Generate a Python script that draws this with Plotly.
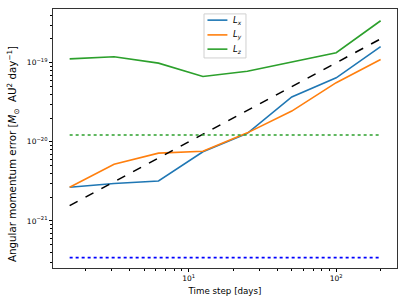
import numpy as np
import plotly.graph_objects as go

time_step = [1.5625, 3.125, 6.25, 12.5, 25, 50, 100, 200]
Lx = [2.67e-21, 2.97e-21, 3.2e-21, 7.5e-21, 1.28e-20, 3.7e-20, 6.45e-20, 1.6e-19]
Ly = [2.67e-21, 5.2e-21, 7.2e-21, 7.6e-21, 1.3e-20, 2.45e-20, 5.6e-20, 1.1e-19]
Lz = [1.12e-19, 1.19e-19, 9.9e-20, 6.7e-20, 7.8e-20, 1.02e-19, 1.34e-19, 3.4e-19]
ref_slope = 1e-21  # dashed reference: error proportional to time step
green_level = 1.22e-20
blue_level = 3.44e-22

series_names = ["<i>L<sub>x</sub></i>", "<i>L<sub>y</sub></i>", "<i>L<sub>z</sub></i>"]
series_colors = ["#1f77b4", "#ff7f0e", "#2ca02c"]

xtick_vals = [10, 100]
xtick_text = ["10<sup>1</sup>", "10<sup>2</sup>"]
ytick_vals = [1e-21, 1e-20, 1e-19]
ytick_text = ["10<sup>\u221221</sup>", "10<sup>\u221220</sup>", "10<sup>\u221219</sup>"]
y_title = "Angular momentum error [<i>M</i><sub>\u2299</sub>\u00a0 AU<sup>2</sup> day<sup>\u22121</sup>]"
x_title = "Time step [days]"

LW = 1.6

fig = go.Figure()
for vals, name, col in zip([Lx, Ly, Lz], series_names, series_colors):
    fig.add_trace(go.Scatter(x=time_step, y=vals, mode="lines", name=name,
                             showlegend=False, line=dict(color=col, width=LW)))
fig.add_trace(go.Scatter(x=time_step, y=[ref_slope * t for t in time_step], mode="lines",
                         showlegend=False, line=dict(color="black", width=LW, dash="dash")))
fig.add_trace(go.Scatter(x=[time_step[0], time_step[-1]], y=[green_level, green_level], mode="lines",
                         showlegend=False, line=dict(color="#2ca02c", width=LW, dash="dot")))
fig.add_trace(go.Scatter(x=[time_step[0], time_step[-1]], y=[blue_level, blue_level], mode="lines",
                         showlegend=False, line=dict(color="blue", width=LW, dash="dot")))

# legend box (matplotlib style)
fig.add_shape(type="rect", xref="paper", yref="paper", x0=0.439, x1=0.561, y0=0.811, y1=0.981,
              line=dict(color="#d0d0d0", width=1), fillcolor="rgba(255,255,255,0.8)", layer="above")
row_y = [0.957, 0.900, 0.845]
for name, col, yy in zip(series_names, series_colors, row_y):
    fig.add_shape(type="line", xref="paper", yref="paper", x0=0.449, x1=0.507, y0=yy, y1=yy,
                  line=dict(color=col, width=LW), layer="above")
    fig.add_annotation(x=0.518, y=yy, xref="paper", yref="paper", text=name, showarrow=False,
                       xanchor="left", yanchor="middle", font=dict(size=8.5, family="DejaVu Sans"))

# y-axis title (positioned as in the reference)
fig.add_annotation(x=-0.119, y=0.44, xref="paper", yref="paper", text=y_title, showarrow=False,
                   textangle=-90, xanchor="center", yanchor="middle",
                   font=dict(size=10.3, family="DejaVu Sans", color="black"))

xminor = [m * 10 ** e for e in range(0, 3) for m in range(2, 10)]
yminor = [m * 10.0 ** e for e in range(-22, -18) for m in range(2, 10)]

fig.update_layout(
    width=407, height=304,
    margin=dict(l=53, r=10, t=9, b=36, autoexpand=False),
    paper_bgcolor="white", plot_bgcolor="white",
    font=dict(family="DejaVu Sans", size=7, color="black"),
    showlegend=False,
)
fig.update_xaxes(type="log", range=[0.081, 2.412], automargin=False,
                 tickvals=xtick_vals, ticktext=xtick_text, tickfont=dict(size=7.5),
                 ticks="outside", ticklen=3, tickcolor="black",
                 showline=True, linecolor="#333333", linewidth=1, mirror=True,
                 showgrid=False, zeroline=False,
                 minor=dict(tickvals=xminor, ticks="outside", ticklen=2, tickcolor="black", showgrid=False),
                 title=dict(text=x_title, font=dict(size=8.7), standoff=5))
fig.update_yaxes(type="log", range=[-21.595, -18.32], automargin=False,
                 tickvals=ytick_vals, ticktext=ytick_text, tickfont=dict(size=7.5),
                 ticks="outside", ticklen=3, tickcolor="black",
                 showline=True, linecolor="#333333", linewidth=1, mirror=True,
                 showgrid=False, zeroline=False,
                 minor=dict(tickvals=yminor, ticks="outside", ticklen=2, tickcolor="black", showgrid=False))

fig.write_html("out.html", config={"displayModeBar": False},
               post_script="document.body.style.margin='0px';")
